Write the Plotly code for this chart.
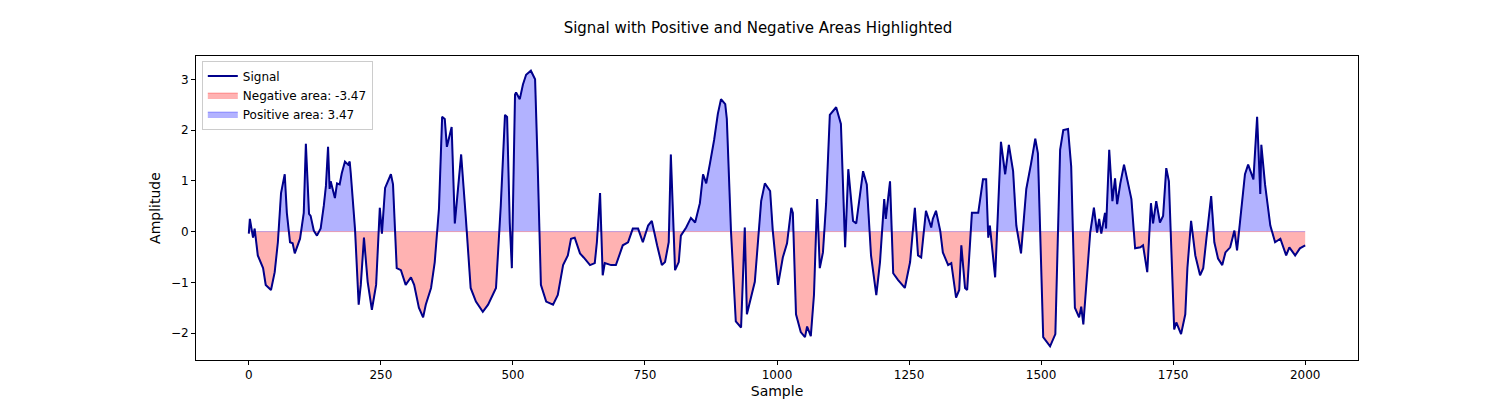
import numpy as np
import plotly.graph_objects as go

# values (turning points)
sample = [0, 2, 8, 11, 17, 27, 32, 42, 49, 55, 61, 68, 72, 78, 83, 87, 97, 104, 108, 114, 117, 123, 129, 136,
          142, 146, 150, 153, 155, 163, 167, 172, 176, 182, 188, 191, 193, 201, 208, 212, 218, 225, 233, 241,
          248, 252, 258, 261, 269, 273, 280, 288, 297, 307, 313, 322, 330, 335, 345, 352, 360, 366, 371, 375,
          384, 390, 396, 402, 411, 420, 430, 443, 453, 462, 468, 477, 485, 489, 494, 498, 504, 506, 513, 519,
          525, 534, 542, 547, 553, 563, 576, 585, 595, 604, 610, 617, 627, 634, 646, 655, 659, 665, 670, 674,
          686, 695, 708, 718, 727, 737, 746, 756, 763, 773, 782, 788, 795, 799, 807, 814, 818, 828, 837, 845,
          854, 860, 866, 873, 881, 888, 894, 902, 905, 913, 922, 932, 939, 943, 951, 958, 970, 977, 987, 992,
          1002, 1011, 1019, 1027, 1030, 1036, 1045, 1053, 1057, 1064, 1070, 1076, 1081, 1087, 1093, 1100, 1112,
          1121, 1129, 1135, 1144, 1150, 1163, 1170, 1178, 1188, 1195, 1203, 1206, 1214, 1220, 1229, 1242, 1252,
          1261, 1267, 1273, 1282, 1292, 1295, 1301, 1309, 1314, 1324, 1330, 1339, 1345, 1349, 1356, 1360, 1369,
          1381, 1390, 1396, 1400, 1403, 1413, 1419, 1424, 1432, 1439, 1447, 1453, 1462, 1472, 1481, 1485, 1489,
          1494, 1504, 1517, 1527, 1536, 1542, 1551, 1557, 1564, 1572, 1576, 1580, 1593, 1600, 1606, 1610, 1614,
          1621, 1623, 1629, 1635, 1640, 1644, 1650, 1657, 1665, 1671, 1678, 1688, 1693, 1701, 1708, 1712, 1718,
          1725, 1731, 1737, 1742, 1752, 1756, 1765, 1773, 1777, 1784, 1792, 1801, 1807, 1813, 1822, 1828, 1835,
          1843, 1849, 1858, 1866, 1871, 1877, 1886, 1892, 1902, 1909, 1915, 1917, 1924, 1934, 1943, 1953, 1964,
          1970, 1981, 1990, 2000]
amplitude = [-0.04, 0.25, -0.12, 0.06, -0.47, -0.72, -1.05, -1.15, -0.80, -0.21, 0.76, 1.13, 0.37, -0.21, -0.23,
             -0.43, -0.14, 0.37, 1.73, 0.35, 0.31, 0.02, -0.08, 0.06, 0.51, 0.90, 1.67, 0.84, 0.99, 0.66, 0.95,
             0.93, 1.15, 1.38, 1.32, 1.38, 1.15, 0.06, -1.44, -1.05, -0.12, -0.99, -1.54, -1.05, 0.47, -0.04,
             0.86, 0.93, 1.13, 0.93, -0.72, -0.76, -1.05, -0.90, -1.05, -1.50, -1.69, -1.44, -1.11, -0.60, 0.45,
             2.26, 2.22, 1.67, 2.06, 0.16, 0.84, 1.52, 0.25, -1.11, -1.38, -1.58, -1.44, -1.25, -1.11, 0.51,
             2.30, 2.26, 0.18, -0.72, 2.70, 2.74, 2.61, 2.90, 3.09, 3.17, 3.00, 1.28, -1.05, -1.38, -1.44, -1.25,
             -0.66, -0.47, -0.14, -0.12, -0.43, -0.51, -0.66, -0.62, -0.21, 0.76, -0.86, -0.62, -0.66, -0.66,
             -0.27, -0.21, 0.06, 0.06, -0.21, 0.12, 0.21, -0.27, -0.66, -0.60, -0.21, 1.52, -0.76, -0.60, -0.08,
             0.08, 0.27, 0.18, 0.56, 1.13, 0.95, 1.34, 1.81, 2.32, 2.61, 2.51, 2.22, -0.02, -1.77, -1.89, 0.08,
             -1.63, -1.30, -0.99, 0.60, 0.95, 0.80, 0.02, -1.05, -0.51, -0.23, 0.47, 0.37, -1.63, -1.98, -2.08,
             -1.87, -2.06, -1.25, 0.64, -0.72, -0.41, 0.56, 2.30, 2.45, 2.12, -0.31, 1.23, 0.21, 0.16, 1.19, 0.93,
             -0.47, -1.25, -0.60, 0.64, 0.25, 0.99, -0.82, -0.95, -1.11, -0.60, 0.47, -0.47, -0.51, 0.41, 0.08,
             0.25, 0.41, 0.02, -0.41, -0.66, -0.62, -1.30, -1.15, -0.27, -1.11, -1.15, 0.37, 0.37, 1.03, 1.03,
             -0.12, 0.12, -0.90, 0.56, 1.77, 1.13, 1.71, 1.19, 0.12, -0.43, 0.84, 1.34, 1.63, 1.83, 1.54, -2.08,
             -2.26, -2.02, 1.61, 2.00, 2.02, 1.28, -1.50, -1.69, -1.48, -1.83, -0.02, 0.47, -0.02, 0.25, -0.04,
             0.37, 0.06, 1.61, 0.60, 1.05, 0.54, 0.95, 1.32, 0.95, 0.64, -0.33, -0.31, -0.27, -0.80, 0.56, 0.16,
             0.60, 0.18, 0.31, 1.25, 0.99, -1.93, -1.79, -2.02, -1.63, -0.72, 0.21, -0.47, -0.86, -0.72, -0.14,
             0.70, -0.21, -0.53, -0.66, -0.41, -0.31, 0.02, -0.37, 0.27, 1.13, 1.32, 1.03, 2.26, 0.74, 1.71, 0.93,
             0.12, -0.21, -0.14, -0.47, -0.31, -0.47, -0.33, -0.27]
pos_label = 'Positive area: 3.47'
neg_label = 'Negative area: -3.47'

x = np.array(sample, dtype=float)
y = np.array(amplitude)

# add zero crossings so the fills meet cleanly at y=0
xs, ys = [x[0]], [y[0]]
for i in range(1, len(x)):
    if y[i - 1] * y[i] < 0:
        t = y[i - 1] / (y[i - 1] - y[i])
        xs.append(x[i - 1] + t * (x[i] - x[i - 1]))
        ys.append(0.0)
    xs.append(x[i])
    ys.append(y[i])
xs, ys = np.array(xs), np.array(ys)

fig = go.Figure()
fig.add_trace(go.Scatter(x=xs, y=np.maximum(ys, 0), mode='lines', fill='tozeroy',
                         fillcolor='rgba(0,0,255,0.3)', line=dict(color='rgba(0,0,255,0.3)', width=1),
                         name=pos_label))
fig.add_trace(go.Scatter(x=xs, y=np.minimum(ys, 0), mode='lines', fill='tozeroy',
                         fillcolor='rgba(255,0,0,0.3)', line=dict(color='rgba(255,0,0,0.3)', width=1),
                         name=neg_label))
fig.add_trace(go.Scatter(x=x, y=y, mode='lines', line=dict(color='#00008b', width=2), name='Signal'))

axis = dict(showgrid=False, zeroline=False, showline=True, mirror=True, linecolor='black',
            ticks='outside', tickcolor='black', ticklen=4, tickfont=dict(size=12, color='black'))
fig.update_layout(
    width=1500, height=400,
    margin=dict(l=188, r=150, t=48, b=44),
    plot_bgcolor='white', paper_bgcolor='white',
    font=dict(family='DejaVu Sans', size=12, color='black'),
    title=dict(text='Signal with Positive and Negative Areas Highlighted', x=0.5, xanchor='center',
               y=0.965, font=dict(size=15)),
    xaxis=dict(axis, range=[-100, 2100], tickvals=[0, 250, 500, 750, 1000, 1250, 1500, 1750, 2000],
               title=dict(text='Sample', standoff=4)),
    yaxis=dict(axis, range=[-2.53, 3.46], tickvals=[-2, -1, 0, 1, 2, 3],
               title=dict(text='Amplitude', standoff=6)),
    legend=dict(x=0.005, y=0.985, xanchor='left', yanchor='top', traceorder='reversed',
                bgcolor='rgba(255,255,255,0.8)', bordercolor='#cccccc', borderwidth=1,
                font=dict(size=12)),
)

fig.write_html('out.html')
